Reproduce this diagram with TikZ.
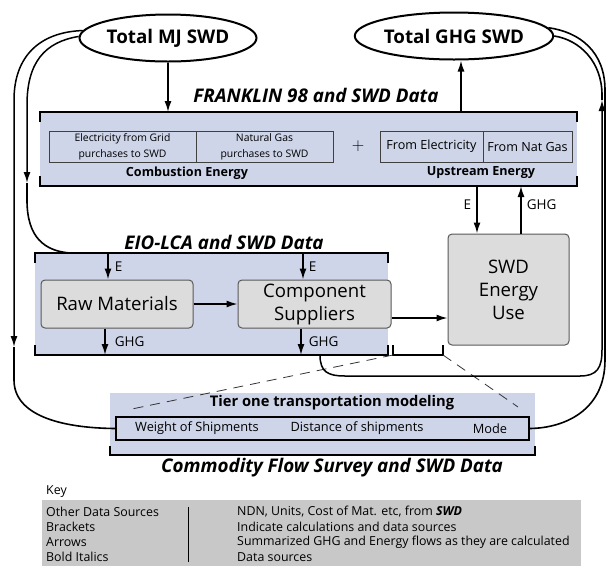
\documentclass[tikz,border=0pt]{standalone}
\usepackage{fontspec}
\setmainfont{Open Sans}
\usetikzlibrary{shapes.geometric, arrows.meta, positioning}
\definecolor{srcblue}{RGB}{206,213,233}
\definecolor{boxgray}{RGB}{220,220,220}
\definecolor{keygray}{RGB}{200,200,200}

\begin{document}
\begin{tikzpicture}[x=1pt, y=-1pt,
  total/.style={ellipse, draw, line width=2pt, minimum width=177pt, minimum height=47pt, inner sep=0pt, font=\bfseries\fontsize{18.8}{18.8}\selectfont},
  srcbox/.style={fill=srcblue, inner sep=0pt, outer sep=0pt},
  bracket/.style={line width=1.8pt},
  cell/.style={draw=black!75, line width=0.8pt, inner sep=0pt, outer sep=0pt, minimum height=31pt, align=center, font=\fontsize{10.4}{16}\selectfont},
  stage/.style={draw=black!65, fill=boxgray, rounded corners=4pt, line width=1pt, inner sep=0pt, align=center, font=\fontsize{18.6}{23}\selectfont},
  flow/.style={line width=1.5pt, -{Latex[length=11pt, width=7pt]}},
  link/.style={line width=1.6pt},
  tag/.style={font=\fontsize{13.5}{13.5}\selectfont, inner sep=1pt},
  source/.style={font=\bfseries\itshape\fontsize{18.8}{18.8}\selectfont},
  keytext/.style={anchor=west, inner sep=0pt, font=\fontsize{12.4}{12.4}\selectfont}]

\useasboundingbox (0,0) rectangle (606,566);

% totals
\node[total] (mj) at (168,38) {Total MJ SWD};
\node[total] (ghg) at (454,36) {Total GHG SWD};

% FRANKLIN 98 block
\node[srcbox, minimum width=537pt, minimum height=74pt] (frank) at (308.5,149) {};
\node[source] (franktitle) at (316,95) {FRANKLIN 98 and SWD Data};
\draw[bracket] ([yshift=-10pt]frank.north west) -- (frank.north west) -- (frank.north east) -- ([yshift=-10pt]frank.north east);
\draw[bracket] ([yshift=10pt]frank.south west) -- (frank.south west) -- (frank.south east) -- ([yshift=10pt]frank.south east);
\node[cell, minimum width=147pt] (elec) at (122.5,146.5) {Electricity from Grid\\purchases to SWD};
\node[cell, minimum width=137pt, right=0pt of elec] (natgas) {Natural Gas\\purchases to SWD};
\node[font=\fontsize{17}{17}\selectfont] (plus) at (358,146) {$+$};
\node[cell, minimum width=103pt, font=\fontsize{12.6}{12.6}\selectfont] (fromel) at (431.5,146.5) {From Electricity};
\node[cell, minimum width=89pt, font=\fontsize{12.6}{12.6}\selectfont, right=0pt of fromel] (fromng) {From Nat Gas};
\node[font=\bfseries\fontsize{12.6}{12.6}\selectfont] (comb) at (187,173) {Combustion Energy};
\node[font=\bfseries\fontsize{12.6}{12.6}\selectfont] (upstr) at (481,173) {Upstream Energy};

\draw[flow] (mj.south) -- (mj.south |- frank.north);
\draw[flow] ([xshift=7pt]ghg.south |- frank.north) -- ([xshift=7pt]ghg.south);

% EIO-LCA block
\node[srcbox, minimum width=353pt, minimum height=102pt] (eio) at (211.5,304) {};
\node[source] (eiotitle) at (224,242) {EIO-LCA and SWD Data};
\draw[bracket] ([yshift=-10pt]eio.north west) -- (eio.north west) -- (eio.north east) -- ([yshift=-10pt]eio.north east);
\draw[bracket] ([yshift=10pt]eio.south west) -- (eio.south west) -- (eio.south east) -- ([yshift=10pt]eio.south east);
\node[stage, minimum width=152pt, minimum height=48pt] (raw) at (117,304) {Raw Materials};
\node[stage, minimum width=153pt, minimum height=48pt] (comp) at (314.5,304) {Component\\Suppliers};
\node[stage, minimum width=121pt, minimum height=111pt] (swd) at (508.5,289.5) {SWD\\Energy\\Use};

\draw[flow] ([xshift=-9pt]raw.north |- eio.north) -- node[tag, right=5pt] {E} ([xshift=-9pt]raw.north);
\draw[flow] ([xshift=-12pt]raw.south) -- node[tag, right=8pt] {GHG} ([xshift=-12pt]raw.south |- eio.south);
\draw[flow] ([xshift=-11.5pt]comp.north |- eio.north) -- node[tag, right=4pt] {E} ([xshift=-11.5pt]comp.north);
\draw[flow] ([xshift=-13.5pt]comp.south) -- node[tag, right=6pt] {GHG} ([xshift=-13.5pt]comp.south |- eio.south);
\draw[flow] (raw.east) -- (comp.west);
\draw[flow] ([yshift=-14pt]comp.east) -- ([yshift=-14pt]comp.east -| swd.west);
\draw[flow] ([xshift=-31.5pt]swd.north |- frank.south) -- node[tag, left=4pt, pos=0.4] {E} ([xshift=-31.5pt]swd.north);
\draw[flow] ([xshift=12.5pt]swd.north) -- node[tag, right=4pt, pos=0.6] {GHG} ([xshift=12.5pt]swd.north |- frank.south);

% calculation bracket
\coordinate (bl) at (393,355);
\coordinate (br) at (443,355);
\draw[line width=1.4pt] ([yshift=10pt]bl) -- (bl) -- (br) -- ([yshift=10pt]br);

% Commodity Flow Survey block
\node[srcbox, minimum width=425pt, minimum height=62pt] (cfs) at (322.5,424) {};
\node[font=\bfseries\fontsize{14.7}{14.7}\selectfont] (tier) at (332,403) {Tier one transportation modeling};
\node[draw, line width=1.8pt, minimum width=413pt, minimum height=23pt, inner sep=0pt] (modes) at (322.5,428.5) {};
\node[font=\fontsize{12.8}{12.8}\selectfont] (weight) at (197,428.5) {Weight of Shipments};
\node[font=\fontsize{12.8}{12.8}\selectfont] (dist) at (357,428.5) {Distance of shipments};
\node[font=\fontsize{12.8}{12.8}\selectfont] (mode) at (490,428.5) {Mode};
\draw[bracket] ([yshift=9pt]cfs.south west) -- (cfs.south west) -- (cfs.south east) -- ([yshift=9pt]cfs.south east);
\node[source] (cfstitle) at (332,468) {Commodity Flow Survey and SWD Data};

\coordinate (zl) at (127,410);
\coordinate (zr) at (518,407);
\draw[dash pattern=on 10pt off 7pt, line width=0.8pt, black!80] (bl) -- (zl);
\draw[dash pattern=on 10pt off 7pt, line width=0.8pt, black!80] (br) -- (zr);

% loops round the blocks
\coordinate (inL) at (27,183);
\draw[flow] (mj.179) .. controls (45,42) and (27,62) .. (27,105) -- (inL);
\draw[link] (inL) -- (27,200) .. controls (27,238) and (45,251) .. ([xshift=35pt]eio.north west);

\coordinate (outL) at (14,347);
\draw[flow] (mj.175) .. controls (40,32) and (14,56) .. (14,100) -- (outL);
\draw[link] (outL) -- (14,380) .. controls (14,415) and (60,428) .. (modes.west);

\coordinate (inR) at (602,100);
\draw[flow] ([xshift=108.5pt]eio.south) .. controls (320,372) and (328,376) .. (345,376) -- (580,376) .. controls (597,376) and (602,368) .. (602,350) -- (inR);
\draw[link] (inR) -- (602,95) .. controls (602,62) and (580,40) .. (ghg.0);

\draw[link] (ghg.5) .. controls (580,32) and (605,52) .. (605,90) -- (605,360) .. controls (605,410) and (565,428) .. (modes.east);

% key
\node[keytext] (keyhead) at (46,492) {Key};
\node[fill=keygray, minimum width=539pt, minimum height=66pt, inner sep=0pt] (keybox) at (311.5,533) {};
\node[keytext] (k1) at (46,512) {Other Data Sources};
\node[keytext] (k2) at (46,527) {Brackets};
\node[keytext] (k3) at (46,542) {Arrows};
\node[keytext] (k4) at (46,557) {Bold Italics};
\node[keytext] (d1) at (237,512) {NDN, Units, Cost of Mat. etc, from \textbf{\textit{SWD}}};
\node[keytext] (d2) at (237,527) {Indicate calculations and data sources};
\node[keytext] (d3) at (237,542) {Summarized GHG and Energy flows as they are calculated};
\node[keytext] (d4) at (237,557) {Data sources};
\draw[line width=0.9pt] ([xshift=147pt, yshift=-7pt]keybox.north west) -- ([xshift=147pt, yshift=4pt]keybox.south west);
\end{tikzpicture}
\end{document}
